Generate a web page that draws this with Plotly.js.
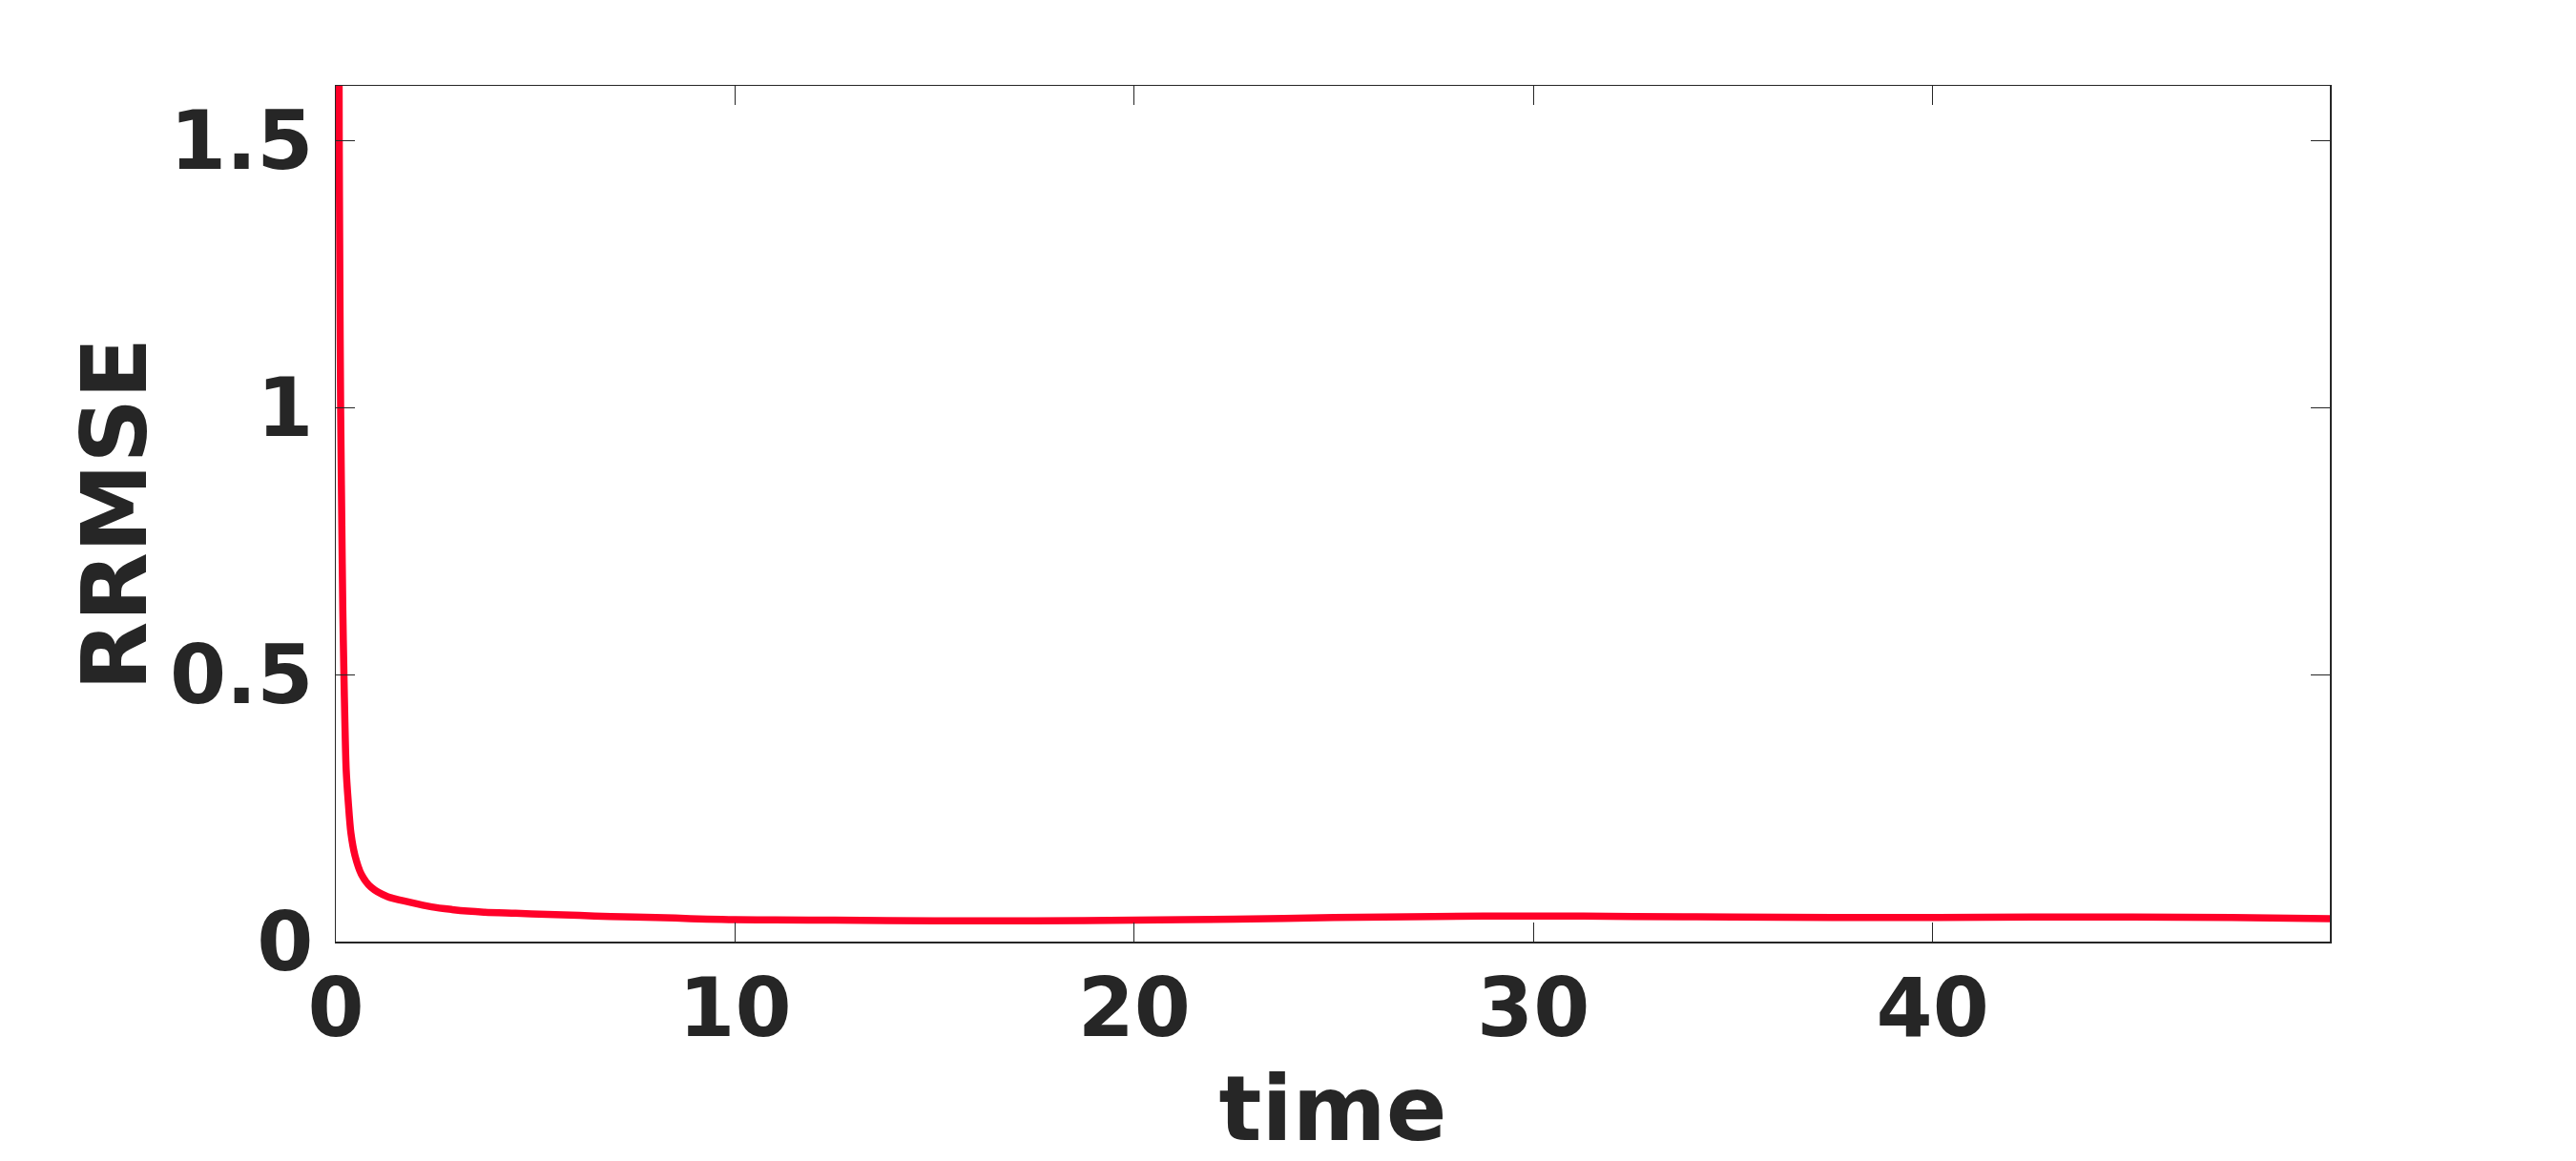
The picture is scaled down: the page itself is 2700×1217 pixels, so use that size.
<!DOCTYPE html>
<html>
<head>
<meta charset="utf-8">
<script src="https://cdn.plot.ly/plotly-3.0.1.min.js"></script>
<style>html,body{margin:0;padding:0;background:#fff;}#chart{width:2700px;height:1217px;}</style>
</head>
<body>
<div id="chart"></div>
<script>
const timeValues = [0.07, 0.085, 0.10, 0.12, 0.15, 0.175, 0.203, 0.227, 0.259, 0.31, 0.378, 0.48, 0.64, 0.88, 1.3, 1.84, 2.4, 2.91, 3.3, 3.71, 4.5, 5.3, 6.1, 6.89, 7.5, 8.5, 9.3, 10, 11, 12.5, 15, 17.5, 20, 22.5, 25, 27.5, 30, 32.5, 35, 37.5, 40, 42.5, 45, 47.5, 49.95];
const rrmseValues = [2.0, 1.5, 1.25, 1.0, 0.78, 0.62, 0.5, 0.411, 0.322, 0.263, 0.203, 0.161, 0.126, 0.102, 0.084, 0.074, 0.065, 0.060, 0.057, 0.055, 0.053, 0.051, 0.049, 0.047, 0.046, 0.044, 0.042, 0.041, 0.0405, 0.040, 0.039, 0.039, 0.040, 0.042, 0.045, 0.047, 0.048, 0.047, 0.046, 0.045, 0.045, 0.046, 0.046, 0.045, 0.043];
const xTickVals = [0, 10, 20, 30, 40];
const xTickText = ['0', '10', '20', '30', '40'];
const yTickVals = [0, 0.5, 1, 1.5];
const yTickText = ['0', '0.5', '1', '1.5'];

const ink = '#262626';
const fontFam = 'DejaVu Sans, sans-serif';

const trace = {
  x: timeValues,
  y: rrmseValues,
  type: 'scatter',
  mode: 'lines',
  line: {color: 'rgb(255,0,40)', width: 7.5, shape: 'spline', smoothing: 0.8},
  hoverinfo: 'skip'
};

const layout = {
  width: 2700,
  height: 1217,
  paper_bgcolor: '#ffffff',
  plot_bgcolor: '#ffffff',
  showlegend: false,
  margin: {l: 351.5, r: 258, t: 90, b: 230, pad: 0},
  xaxis: {
    range: [0, 49.95],
    tickvals: xTickVals,
    ticktext: xTickText,
    ticks: 'inside',
    ticklen: 20,
    tickwidth: 1,
    tickcolor: ink,
    showline: true,
    linecolor: ink,
    linewidth: 1.5,
    mirror: 'ticks',
    showgrid: false,
    zeroline: false,
    tickfont: {family: fontFam, size: 85, color: ink, weight: 'bold'},
    ticklabelstandoff: -5,
    title: {text: '<b>time</b>', font: {family: fontFam, size: 94, color: ink}, standoff: 27},
    automargin: false
  },
  yaxis: {
    range: [0, 1.6023],
    tickvals: yTickVals,
    ticktext: yTickText,
    ticks: 'inside',
    ticklen: 20,
    tickwidth: 1,
    tickcolor: ink,
    showline: true,
    linecolor: ink,
    linewidth: 1.5,
    mirror: 'ticks',
    showgrid: false,
    zeroline: false,
    tickfont: {family: fontFam, size: 85, color: ink, weight: 'bold'},
    ticklabelstandoff: 5,
    automargin: false
  },
  annotations: [{
    text: '<b>RRMSE</b>',
    xref: 'paper', yref: 'paper',
    x: -0.1108, y: 0.5,
    xanchor: 'center', yanchor: 'middle',
    textangle: -90,
    showarrow: false,
    font: {family: fontFam, size: 94, color: ink}
  }]
};

Plotly.newPlot('chart', [trace], layout, {staticPlot: true, displayModeBar: false});
</script>
</body>
</html>
